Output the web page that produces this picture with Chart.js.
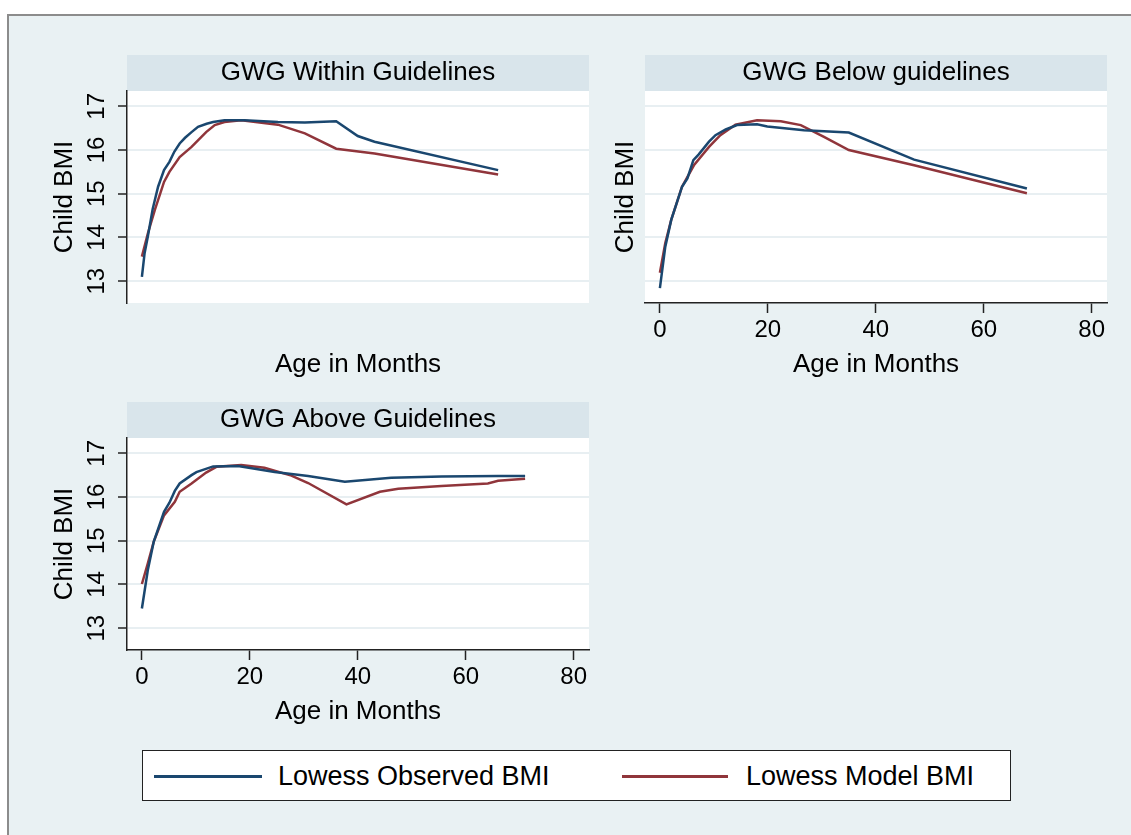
<!DOCTYPE html>
<html>
<head>
<meta charset="utf-8">
<script src="https://cdn.jsdelivr.net/npm/chart.js@4.4.1/dist/chart.umd.min.js"></script>
<style>
  body { margin: 0; background: #fff; font-family: "Liberation Sans", Arial, Helvetica, sans-serif; }
  #frame { position: absolute; left: 7px; top: 14px; width: 1200px; height: 900px; background: #e9f1f3; border-top: 2px solid #8c8c8c; border-left: 2px solid #8c8c8c; }
  canvas { position: absolute; }
  #legend { position: absolute; left: 142px; top: 750px; width: 867px; height: 49px; background: #fff; border: 1.5px solid #222; }
  #legend .sw { position: absolute; top: 24px; height: 3px; }
  #legend .lbl { position: absolute; top: 9px; font-size: 27px; line-height: 32px; color: #000; white-space: nowrap; }
</style>
</head>
<body>
<div id="frame"></div>
<canvas id="within" width="569" height="328" style="left:40px; top:55px"></canvas>
<canvas id="below" width="527" height="328" style="left:600px; top:55px"></canvas>
<canvas id="above" width="569" height="328" style="left:40px; top:402px"></canvas>
<div id="legend">
  <span class="sw" style="left:11px; width:108px; background:#1a476f"></span>
  <span class="lbl" style="left:135px">Lowess Observed BMI</span>
  <span class="sw" style="left:479px; width:106px; background:#90353b"></span>
  <span class="lbl" style="left:603px">Lowess Model BMI</span>
</div>
<script>
// tick labels
const xTicks = [0, 20, 40, 60, 80]
const yTicks = [13, 14, 15, 16, 17]

// GWG within guidelines
const withinObsAge = [0, 0.5, 1.1, 2, 3, 4.1, 5.1, 6, 7, 8, 9.2, 10.4, 12, 13.2, 15.3, 19, 25.2, 30.2, 36, 40, 43.1, 66]
const withinObsBmi = [13.1, 13.64, 14.02, 14.65, 15.16, 15.54, 15.73, 15.96, 16.15, 16.28, 16.41, 16.53, 16.6, 16.64, 16.68, 16.68, 16.64, 16.63, 16.66, 16.32, 16.19, 15.54]
const withinModAge = [0, 1.1, 2.4, 4.1, 5.1, 7, 9.2, 11.9, 13.5, 15.3, 18.4, 25.2, 30.2, 36, 43.1, 66]
const withinModBmi = [13.56, 14.09, 14.63, 15.27, 15.5, 15.84, 16.07, 16.41, 16.57, 16.64, 16.68, 16.58, 16.38, 16.03, 15.92, 15.44]

// GWG below guidelines
const belowObsAge = [0, 1, 2.1, 4.1, 5.1, 6.2, 7.2, 9.1, 10.3, 12.2, 14.3, 18, 19.9, 26.7, 35, 47.1, 68]
const belowObsBmi = [12.84, 13.79, 14.4, 15.16, 15.35, 15.77, 15.9, 16.19, 16.34, 16.47, 16.57, 16.59, 16.54, 16.45, 16.4, 15.78, 15.12]
const belowModAge = [0, 1, 2.1, 4.1, 6.3, 9.1, 11.2, 14, 18, 22.4, 26.1, 30.4, 35, 47.1, 68]
const belowModBmi = [13.19, 13.87, 14.4, 15.16, 15.65, 16.07, 16.34, 16.58, 16.68, 16.66, 16.57, 16.3, 16.0, 15.65, 15.01]

// GWG above guidelines
const aboveObsAge = [0, 1.1, 2.2, 4.1, 5.1, 6.1, 7, 9.2, 10.1, 13.2, 17.8, 24.6, 30.8, 37.6, 46.2, 55.5, 66, 71]
const aboveObsBmi = [13.45, 14.33, 14.98, 15.66, 15.87, 16.14, 16.31, 16.5, 16.57, 16.7, 16.71, 16.57, 16.48, 16.35, 16.44, 16.47, 16.48, 16.48]
const aboveModAge = [0, 1.1, 2.2, 4.1, 6.1, 7, 9.2, 11.9, 13.8, 18.4, 22.7, 27.7, 30.8, 37.9, 44.1, 47.5, 55.5, 64.1, 66, 71]
const aboveModBmi = [14.01, 14.48, 14.98, 15.58, 15.89, 16.12, 16.31, 16.56, 16.69, 16.73, 16.67, 16.49, 16.32, 15.83, 16.12, 16.19, 16.25, 16.31, 16.37, 16.42]

Chart.defaults.font.family = '"Liberation Sans", Arial, Helvetica, sans-serif'
Chart.defaults.color = "#000"

const toPoints = (ages, vals) => ages.map((a, i) => ({ x: a, y: vals[i] }))

// grey-blue strip behind the panel title, white plot region
const stripPlugin = {
  id: "strip",
  beforeDraw(chart) {
    const { ctx, chartArea } = chart
    const t = chart.titleBlock
    ctx.save()
    ctx.fillStyle = "#d9e5eb"
    ctx.fillRect(chartArea.left, t.top, chartArea.right - chartArea.left, t.bottom - t.top)
    ctx.fillStyle = "#fff"
    ctx.fillRect(chartArea.left, chartArea.top, chartArea.width, chartArea.height)
    ctx.restore()
  },
}

function makePanel(id, title, obsAge, obsBmi, modAge, modBmi, showX, showY) {
  const ctx = document.getElementById(id).getContext("2d")
  return new Chart(ctx, {
    type: "line",
    data: {
      datasets: [
        {
          label: "Lowess Observed BMI",
          data: toPoints(obsAge, obsBmi),
          borderColor: "#1a476f",
          borderWidth: 2.5,
          pointRadius: 0,
          tension: 0,
        },
        {
          label: "Lowess Model BMI",
          data: toPoints(modAge, modBmi),
          borderColor: "#90353b",
          borderWidth: 2.5,
          pointRadius: 0,
          tension: 0,
        },
      ],
    },
    options: {
      responsive: false,
      animation: false,
      layout: { padding: { top: 0, left: 0, right: 20, bottom: 0 } },
      plugins: {
        legend: { display: false },
        tooltip: { enabled: false },
        title: {
          display: true,
          text: title,
          fullSize: false,
          color: "#000",
          font: { size: 26, weight: "normal", lineHeight: 1 },
          padding: { top: 5, bottom: 5 },
        },
      },
      scales: {
        x: {
          type: "linear",
          min: -2.76,
          max: 82.84,
          afterBuildTicks: (s) => { s.ticks = xTicks.map((v) => ({ value: v })) },
          afterFit: (s) => { s.height = 80 },
          ticks: { color: showX ? "#000" : "rgba(0,0,0,0)", font: { size: 24 }, padding: 3, autoSkip: false, maxRotation: 0 },
          grid: { drawOnChartArea: false, tickLength: 10, tickWidth: 1.5, tickColor: showX ? "#222" : "rgba(0,0,0,0)" },
          border: { display: showX, color: "#222", width: 1.5 },
          title: { display: true, text: "Age in Months", color: "#000", font: { size: 26 }, padding: { top: 0, bottom: 3 } },
        },
        y: {
          type: "linear",
          min: 12.5,
          max: 17.35,
          afterBuildTicks: (s) => { s.ticks = yTicks.map((v) => ({ value: v })) },
          afterFit: (s) => { s.width = showY ? 87 : 45 },
          ticks: { display: showY, color: "#000", font: { size: 24 }, padding: 7, minRotation: 90, maxRotation: 90, crossAlign: "center", autoSkip: false },
          grid: { color: "#e8eff2", lineWidth: 2, drawTicks: showY, tickLength: 9, tickWidth: 1.5, tickColor: "#222" },
          border: { display: showY, color: "#222", width: 1.5 },
          title: { display: true, text: "Child BMI", color: "#000", font: { size: 26 }, padding: { top: showY ? 9 : 10, bottom: 0 } },
        },
      },
    },
    plugins: [stripPlugin],
  })
}

makePanel("within", "GWG Within Guidelines", withinObsAge, withinObsBmi, withinModAge, withinModBmi, false, true)
makePanel("below", "GWG Below guidelines", belowObsAge, belowObsBmi, belowModAge, belowModBmi, true, false)
makePanel("above", "GWG Above Guidelines", aboveObsAge, aboveObsBmi, aboveModAge, aboveModBmi, true, true)
</script>
</body>
</html>
